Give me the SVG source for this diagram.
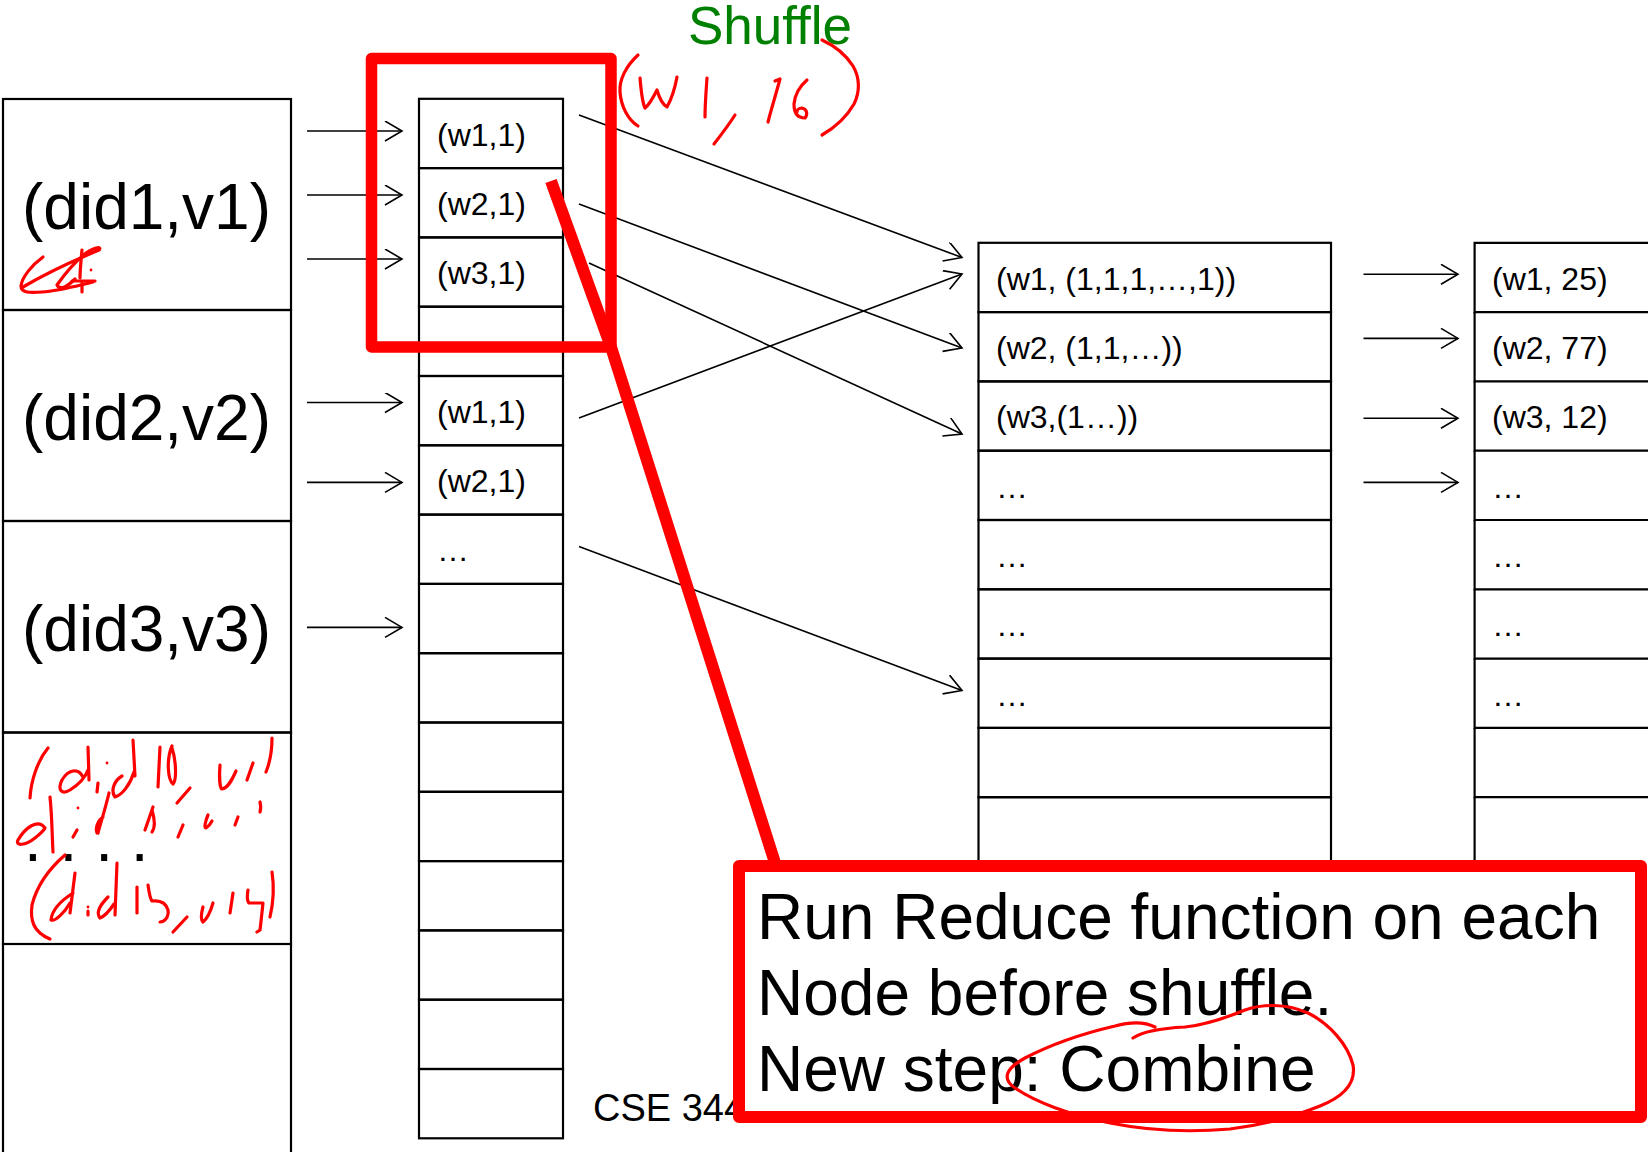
<svg xmlns="http://www.w3.org/2000/svg" width="1648" height="1152" viewBox="0 0 1648 1152">
  <defs>
    <style>
      .cell { fill: none; stroke: #000; stroke-width: 2.2; }
      .t { font-family: "Liberation Sans", Arial, sans-serif; fill: #000; }
      .sm { font-size: 32px; }
      .big { font-size: 64px; }
      .arr { fill: none; stroke: #000; stroke-width: 1.6; marker-end: url(#ah); }
      .ink { fill: none; stroke: #f00; stroke-linecap: round; stroke-linejoin: round; stroke-width: 3.2; }
      .pen { fill: none; stroke: #f00; stroke-linejoin: round; }
    </style>
    <marker id="ah" markerUnits="userSpaceOnUse" viewBox="0 0 24 24" markerWidth="24" markerHeight="24" refX="18" refY="10" orient="auto">
      <path d="M1,0 L18,10 L1,20" fill="none" stroke="#000" stroke-width="1.6"/>
    </marker>
  </defs>
  <rect width="1648" height="1152" fill="#fff"/>

  <!-- input documents -->
  <g id="docs">
    <g id="doc1">
      <rect class="cell" x="3" y="99" width="288" height="211"/>
      <text class="t big" x="22" y="229">(did1,v1)</text>
    </g>
    <g id="doc2">
      <rect class="cell" x="3" y="310" width="288" height="211"/>
      <text class="t big" x="22" y="440">(did2,v2)</text>
    </g>
    <g id="doc3">
      <rect class="cell" x="3" y="521" width="288" height="211.5"/>
      <text class="t big" x="22" y="651">(did3,v3)</text>
    </g>
    <g id="doc4">
      <rect class="cell" x="3" y="732.5" width="288" height="211.5"/>
      <text class="t big" x="24" y="861">. . . .</text>
    </g>
    <g id="doc5">
      <path class="cell" d="M3,1152 V944 H291 V1152"/>
    </g>
  </g>

  <!-- map output pairs -->
  <g id="map-out">
    <g id="m0"><rect class="cell" x="419" y="98.8" width="144" height="69.3"/><text class="t sm" x="437" y="145.5">(w1,1)</text></g>
    <g id="m1"><rect class="cell" x="419" y="168.1" width="144" height="69.3"/><text class="t sm" x="437" y="214.8">(w2,1)</text></g>
    <g id="m2"><rect class="cell" x="419" y="237.4" width="144" height="69.3"/><text class="t sm" x="437" y="284.1">(w3,1)</text></g>
    <g id="m3"><rect class="cell" x="419" y="306.7" width="144" height="69.3"/></g>
    <g id="m4"><rect class="cell" x="419" y="376" width="144" height="69.3"/><text class="t sm" x="437" y="422.7">(w1,1)</text></g>
    <g id="m5"><rect class="cell" x="419" y="445.3" width="144" height="69.3"/><text class="t sm" x="437" y="492">(w2,1)</text></g>
    <g id="m6"><rect class="cell" x="419" y="514.6" width="144" height="69.3"/><text class="t sm" x="437" y="561.3">…</text></g>
    <g id="m7"><rect class="cell" x="419" y="583.9" width="144" height="69.3"/></g>
    <g id="m8"><rect class="cell" x="419" y="653.2" width="144" height="69.3"/></g>
    <g id="m9"><rect class="cell" x="419" y="722.5" width="144" height="69.3"/></g>
    <g id="m10"><rect class="cell" x="419" y="791.8" width="144" height="69.3"/></g>
    <g id="m11"><rect class="cell" x="419" y="861.1" width="144" height="69.3"/></g>
    <g id="m12"><rect class="cell" x="419" y="930.4" width="144" height="69.3"/></g>
    <g id="m13"><rect class="cell" x="419" y="999.7" width="144" height="69.3"/></g>
    <g id="m14"><rect class="cell" x="419" y="1069" width="144" height="69.3"/></g>
  </g>

  <!-- grouped values (reduce input) -->
  <g id="groups">
    <g id="g0"><rect class="cell" x="978.5" y="242.8" width="352.5" height="69.3"/><text class="t sm" x="996" y="289.8">(w1, (1,1,1,…,1))</text></g>
    <g id="g1"><rect class="cell" x="978.5" y="312.1" width="352.5" height="69.3"/><text class="t sm" x="996" y="359.1">(w2, (1,1,…))</text></g>
    <g id="g2"><rect class="cell" x="978.5" y="381.4" width="352.5" height="69.3"/><text class="t sm" x="996" y="428.4">(w3,(1…))</text></g>
    <g id="g3"><rect class="cell" x="978.5" y="450.7" width="352.5" height="69.3"/><text class="t sm" x="996" y="497.7">…</text></g>
    <g id="g4"><rect class="cell" x="978.5" y="520" width="352.5" height="69.3"/><text class="t sm" x="996" y="567">…</text></g>
    <g id="g5"><rect class="cell" x="978.5" y="589.3" width="352.5" height="69.3"/><text class="t sm" x="996" y="636.3">…</text></g>
    <g id="g6"><rect class="cell" x="978.5" y="658.6" width="352.5" height="69.3"/><text class="t sm" x="996" y="705.6">…</text></g>
    <g id="g7"><rect class="cell" x="978.5" y="727.9" width="352.5" height="69.3"/></g>
    <g id="g8"><rect class="cell" x="978.5" y="797.2" width="352.5" height="120"/></g>
  </g>

  <!-- reduce output -->
  <g id="results">
    <g id="r0"><path class="cell" d="M1650,242.8 H1474.6 V312.1 H1650"/><text class="t sm" x="1492" y="289.8">(w1, 25)</text></g>
    <g id="r1"><path class="cell" d="M1474.6,312.1 V381.4 H1650"/><text class="t sm" x="1492" y="359.1">(w2, 77)</text></g>
    <g id="r2"><path class="cell" d="M1474.6,381.4 V450.7 H1650"/><text class="t sm" x="1492" y="428.4">(w3, 12)</text></g>
    <g id="r3"><path class="cell" d="M1474.6,450.7 V520 H1650"/><text class="t sm" x="1492" y="497.7">…</text></g>
    <g id="r4"><path class="cell" d="M1474.6,520 V589.3 H1650"/><text class="t sm" x="1492" y="567">…</text></g>
    <g id="r5"><path class="cell" d="M1474.6,589.3 V658.6 H1650"/><text class="t sm" x="1492" y="636.3">…</text></g>
    <g id="r6"><path class="cell" d="M1474.6,658.6 V727.9 H1650"/><text class="t sm" x="1492" y="705.6">…</text></g>
    <g id="r7"><path class="cell" d="M1474.6,727.9 V797.2 H1650"/></g>
    <g id="r8"><path class="cell" d="M1474.6,797.2 V917"/></g>
  </g>

  <!-- connectors -->
  <g id="connectors">
    <path class="arr" d="M307,131 H402"/>
    <path class="arr" d="M307,195 H402"/>
    <path class="arr" d="M307,259 H402"/>
    <path class="arr" d="M307,402.5 H402"/>
    <path class="arr" d="M307,482.4 H402"/>
    <path class="arr" d="M307,627.4 H402"/>

    <path class="arr" d="M579,115 L962,257.5"/>
    <path class="arr" d="M579,204 L962,348"/>
    <path class="arr" d="M589,263 L962,434"/>
    <path class="arr" d="M579,418 L962,274"/>
    <path class="arr" d="M579,546.5 L962,690.5"/>

    <path class="arr" d="M1363.5,274.3 H1458"/>
    <path class="arr" d="M1363.5,338.4 H1458"/>
    <path class="arr" d="M1363.5,418.3 H1458"/>
    <path class="arr" d="M1363.5,482.4 H1458"/>
  </g>

  <text id="shuffle" class="t" x="688" y="44" font-size="53" style="fill:#008000">Shuffle</text>
  <text id="footer" class="t" x="593" y="1121" font-size="38">CSE 344</text>

  <!-- highlight box around the first node's pairs, with its pointer -->
  <rect class="pen" x="371.5" y="58.5" width="239.5" height="288.5" stroke-width="11.5"/>
  <path class="pen" d="M551,181 L611,347 L776,866" stroke-width="12"/>

  <!-- pen notes -->
  <g id="note-w1">
    <path class="ink" d="M638,55 C626,66 619,80 620,92 C621,106 628,120 638,126"/>
    <path class="ink" d="M640,78 C641,90 642,102 645,108 C650,104 654,96 657,90 C659,97 662,104 667,107 C672,98 675,88 677,77"/>
    <path class="ink" d="M707,78 C706,92 705,105 705,117"/>
    <path class="ink" d="M735,115 C728,126 721,135 714,144"/>
    <path class="ink" d="M775,81 L780,79 C776,94 771,110 768,122"/>
    <path class="ink" d="M807,80 C800,86 795,94 794,104 C794,112 797,118 805,118 C808,114 807,109 802,108 C799,108 797,110 797,112"/>
    <path class="ink" d="M822,40 C835,46 846,55 853,66 C860,78 860,92 854,104 C846,118 834,128 822,135"/>
  </g>
  <g id="note-doc1">
    <path class="ink" d="M43,257 C32,265 22,277 21,286 C21,293 30,293 42,292 C58,291 76,286 93,282"/>
    <path class="ink" d="M23,287 C45,274 75,260 99,250 C102,247 96,246 86,253 C76,261 64,275 57,285 C60,291 68,286 75,279"/>
    <path class="ink" d="M82,250 C81,261 80,270 80,278"/>
    <path class="ink" d="M72,281 L95,281 M82,283 L82,292"/>
    <circle cx="91" cy="270" r="1.4" fill="#f00"/>
  </g>
  <g id="note-doc4">
    <path class="ink" d="M48,748 C38,760 31,780 30,798"/>
    <path class="ink" d="M83,777 C78,767 68,770 62,780 C57,790 62,795 70,790 C78,785 85,778 88,770 M88,747 L89,780"/>
    <path class="ink" d="M98,783 L97,792"/>
    <circle cx="107" cy="763" r="1.4" fill="#f00"/>
    <path class="ink" d="M122,776 C115,780 110,790 115,797 C122,795 130,785 134,772 M133,740 L135,776"/>
    <path class="ink" d="M160,747 L158,787"/>
    <path class="ink" d="M172,746 C166,760 168,780 173,784 C177,780 176,760 172,748"/>
    <path class="ink" d="M190,788 L177,803"/>
    <path class="ink" d="M220,765 C219,778 220,788 222,789 C228,788 232,780 236,771"/>
    <path class="ink" d="M253,763 L247,780"/>
    <path class="ink" d="M272,738 C272,750 270,762 266,772"/>

    <path class="ink" d="M50,797 C52,815 52,835 53,852"/>
    <path class="ink" d="M45,828 C38,818 25,828 18,840 C15,846 25,846 35,838 C40,834 44,830 45,828"/>
    <circle cx="78" cy="808" r="1.4" fill="#f00"/>
    <path class="ink" d="M77,830 L73,837"/>
    <path class="ink" d="M109,793 C105,810 100,825 98,833 M103,817 C98,820 95,828 97,833"/>
    <path class="ink" d="M153,807 L145,830 M152,810 C155,820 155,828 152,832"/>
    <path class="ink" d="M183,825 L178,837"/>
    <path class="ink" d="M208,815 C205,822 204,828 206,828 C209,826 211,823 212,821"/>
    <path class="ink" d="M238,817 L235,825"/>
    <path class="ink" d="M260,802 C261,806 261,809 260,812"/>

    <path class="ink" d="M65,855 C50,868 37,885 32,905 C30,920 33,932 50,939"/>
    <path class="ink" d="M73,893 C62,900 52,910 51,920 C55,922 65,912 70,903 M75,873 L70,913"/>
    <path class="ink" d="M88,911 L88,915"/>
    <circle cx="88" cy="907" r="1.4" fill="#f00"/>
    <path class="ink" d="M117,863 L115,915 M108,897 C100,905 96,913 100,918 C105,916 110,910 114,904"/>
    <path class="ink" d="M137,887 L137,913"/>
    <path class="ink" d="M148,885 C149,892 150,899 152,901 C160,900 166,903 168,910 C169,918 164,922 160,922"/>
    <path class="ink" d="M187,917 L173,932"/>
    <path class="ink" d="M203,907 C201,914 201,920 203,922 C208,918 211,910 213,903"/>
    <path class="ink" d="M233,893 L230,913"/>
    <path class="ink" d="M248,890 C247,896 247,901 249,903 C255,903 260,903 263,903 C262,912 261,922 260,930 L257,932"/>
    <path class="ink" d="M272,872 C274,885 274,900 270,917"/>
  </g>

  <!-- callout -->
  <g id="callout">
    <rect x="739" y="866" width="902" height="251" fill="#fff" stroke="#f00" stroke-width="12" stroke-linejoin="round"/>
    <text class="t big" x="757" y="939">Run Reduce function on each</text>
    <text class="t big" x="757" y="1015">Node before shuffle.</text>
    <text class="t big" x="757" y="1091">New step: Combine</text>
    <path class="ink" stroke-width="3.6" d="M1133,1038 C1145,1030 1165,1028 1185,1027 C1205,1025 1228,1017 1245,1010 C1262,1004 1285,1003 1308,1013 C1330,1024 1348,1045 1353,1065 C1356,1082 1345,1096 1320,1106 C1295,1116 1265,1125 1230,1129 C1195,1132 1150,1131 1110,1123 C1070,1115 1035,1102 1015,1088 C1002,1079 1005,1069 1025,1058 C1050,1045 1085,1033 1115,1026 C1130,1022 1145,1022 1155,1027"/>
  </g>
</svg>
